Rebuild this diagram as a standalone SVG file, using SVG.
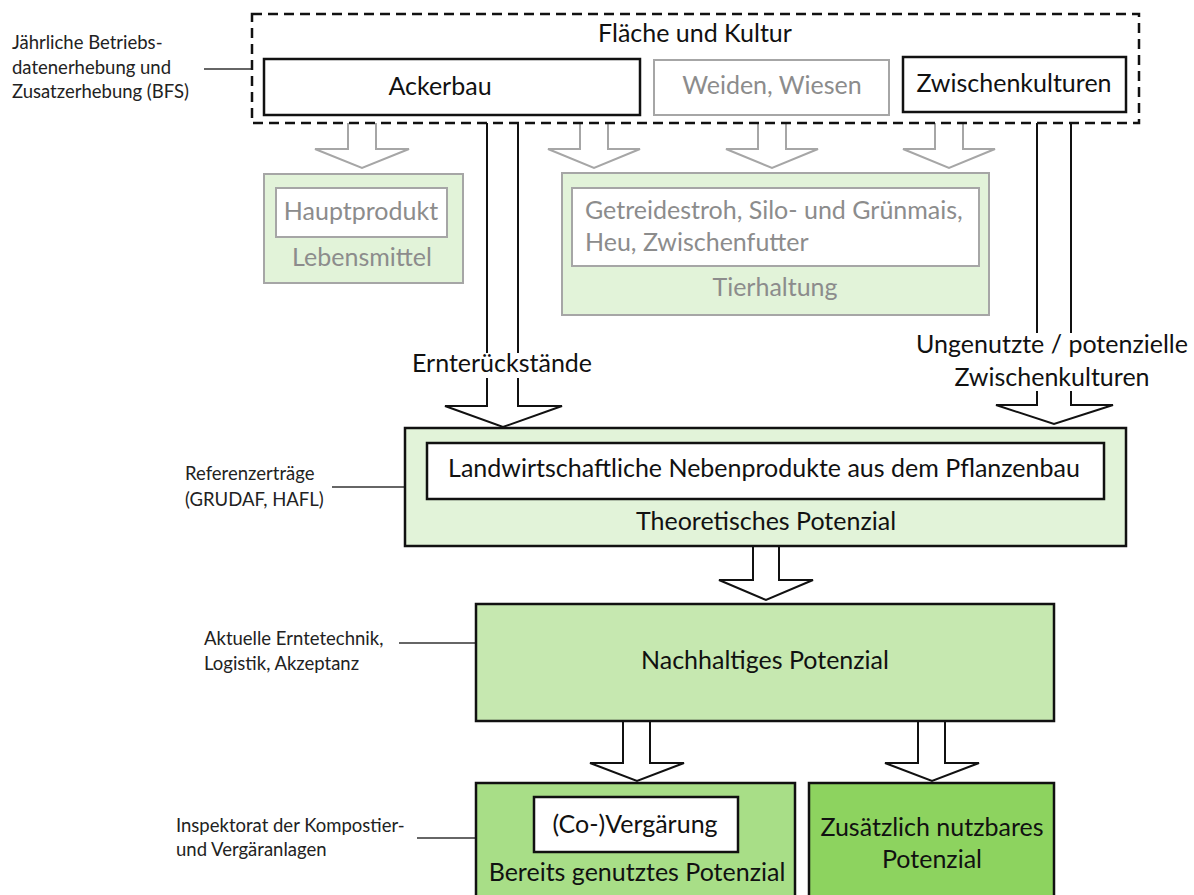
<svg xmlns="http://www.w3.org/2000/svg" width="1194" height="895" viewBox="0 0 1194 895">
<defs>
<style>
text{font-family:Lato,"Open Sans","Liberation Sans",sans-serif;}
.t{font-size:25px;fill:#111;}
.tg{font-size:25px;fill:#8c8c8c;}
.lab{font-size:18.5px;fill:#222;}
.blk{fill:#fff;stroke:#111;stroke-width:2.5;}
.gry{fill:#fff;stroke:#a6a6a6;stroke-width:2;}
.barrow{fill:#fff;stroke:#111;stroke-width:2;stroke-linejoin:miter;}
.garrow{fill:#fff;stroke:#a6a6a6;stroke-width:2;}
.lead{stroke:#333;stroke-width:1.5;fill:none;}
</style>
</defs>
<rect width="1194" height="895" fill="#fff"/>

<g id="connectors">
  <line class="lead" x1="204" y1="69" x2="252" y2="69"/>
  <line class="lead" x1="332" y1="487" x2="405" y2="487"/>
  <line class="lead" x1="399" y1="643" x2="476" y2="643"/>
  <line class="lead" x1="417" y1="838" x2="476" y2="838"/>
  <path class="garrow" d="M348,123 V149 H315 L362,168 L409,149 H376 V123"/>
  <path class="garrow" d="M580,123 V149 H548 L594,168 L640,149 H608 V123"/>
  <path class="garrow" d="M758,123 V149 H726 L772,168 L818,149 H786 V123"/>
  <path class="garrow" d="M935,123 V149 H903 L949,168 L995,149 H963 V123"/>
  <path class="barrow" d="M487,123 V406 H445 L503,427 L562,406 H518 V123"/>
  <rect x="406" y="353" width="194" height="25" fill="#fff"/>
  <text class="t" x="502" y="372" text-anchor="middle">Ernterückstände</text>
  <path class="barrow" d="M1037,123 V405 H996 L1054,424 L1113,405 H1071 V123"/>
  <rect x="912" y="333" width="282" height="58" fill="#fff"/>
  <text class="t" x="1052" y="353" text-anchor="middle">Ungenutzte / potenzielle</text>
  <text class="t" x="1052" y="386" text-anchor="middle">Zwischenkulturen</text>
  <path class="barrow" d="M753,547 V580 H719 L766,600 L813,580 H779 V547"/>
  <path class="barrow" d="M623,721 V763 H590 L637,781 L684,763 H650 V721"/>
  <path class="barrow" d="M918,721 V763 H885 L932,781 L979,763 H945 V721"/>
</g>

<g id="label-bfs">
  <text class="lab" x="12" y="49">Jährliche Betriebs-</text>
  <text class="lab" x="12" y="74">datenerhebung und</text>
  <text class="lab" x="12" y="98">Zusatzerhebung (BFS)</text>
</g>
<g id="label-referenz">
  <text class="lab" x="185" y="480">Referenzerträge</text>
  <text class="lab" x="185" y="506">(GRUDAF, HAFL)</text>
</g>
<g id="label-erntetechnik">
  <text class="lab" x="204" y="645">Aktuelle Erntetechnik,</text>
  <text class="lab" x="204" y="670">Logistik, Akzeptanz</text>
</g>
<g id="label-inspektorat">
  <text class="lab" x="176" y="832">Inspektorat der Kompostier-</text>
  <text class="lab" x="176" y="856">und Vergäranlagen</text>
</g>

<g id="flaeche-kultur">
  <rect x="252" y="14" width="887" height="109" fill="none" stroke="#111" stroke-width="2.5" stroke-dasharray="10 6"/>
  <text class="t" x="695" y="42" text-anchor="middle">Fläche und Kultur</text>
</g>
<g id="ackerbau">
  <rect class="blk" x="264" y="59" width="376" height="56"/>
  <text class="t" x="440" y="95" text-anchor="middle">Ackerbau</text>
</g>
<g id="weiden">
  <rect class="gry" x="654" y="60" width="235" height="55"/>
  <text class="tg" x="772" y="94" text-anchor="middle">Weiden, Wiesen</text>
</g>
<g id="zwischenkulturen">
  <rect class="blk" x="903" y="57" width="223" height="55"/>
  <text class="t" x="1014" y="92" text-anchor="middle">Zwischenkulturen</text>
</g>

<g id="lebensmittel">
  <rect x="264" y="174" width="199" height="109" fill="#e2f3d9" stroke="#a6a6a6" stroke-width="2"/>
  <rect class="gry" x="276" y="188" width="171" height="49"/>
  <text class="tg" x="361" y="220" text-anchor="middle">Hauptprodukt</text>
  <text class="tg" x="362" y="266" text-anchor="middle">Lebensmittel</text>
</g>
<g id="tierhaltung">
  <rect x="562" y="173" width="427" height="142" fill="#e2f3d9" stroke="#a6a6a6" stroke-width="2"/>
  <rect class="gry" x="572" y="188" width="407" height="78"/>
  <text class="tg" x="585" y="219">Getreidestroh, Silo- und Grünmais,</text>
  <text class="tg" x="585" y="251">Heu, Zwischenfutter</text>
  <text class="tg" x="775" y="296" text-anchor="middle">Tierhaltung</text>
</g>

<g id="theoretisch">
  <rect x="405" y="428" width="721" height="118" fill="#e2f3d9" stroke="#111" stroke-width="2.5"/>
  <rect class="blk" x="427" y="443" width="677" height="56"/>
  <text class="t" x="764" y="477" text-anchor="middle">Landwirtschaftliche Nebenprodukte aus dem Pflanzenbau</text>
  <text class="t" x="766" y="530" text-anchor="middle">Theoretisches Potenzial</text>
</g>

<g id="nachhaltig">
  <rect x="476" y="604" width="578" height="117" fill="#c6e8b0" stroke="#111" stroke-width="2.5"/>
  <text class="t" x="765" y="669" text-anchor="middle">Nachhaltiges Potenzial</text>
</g>

<g id="bereits">
  <rect x="476" y="783" width="319" height="125" fill="#a8de87" stroke="#111" stroke-width="2.5"/>
  <rect class="blk" x="534" y="797" width="204" height="55"/>
  <text class="t" x="635" y="833" text-anchor="middle">(Co-)Vergärung</text>
  <text class="t" x="637" y="881" text-anchor="middle">Bereits genutztes Potenzial</text>
</g>

<g id="zusaetzlich">
  <rect x="809" y="783" width="245" height="125" fill="#8dd35f" stroke="#111" stroke-width="2.5"/>
  <text class="t" x="932" y="836" text-anchor="middle">Zusätzlich nutzbares</text>
  <text class="t" x="932" y="868" text-anchor="middle">Potenzial</text>
</g>
</svg>
